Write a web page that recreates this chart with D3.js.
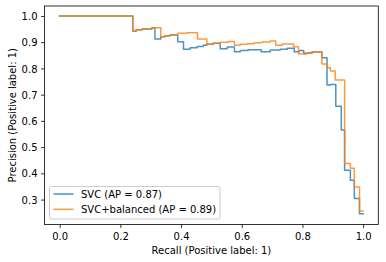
<!DOCTYPE html>
<html>
<head>
<meta charset="utf-8">
<script src="https://cdn.jsdelivr.net/npm/d3@7"></script>
<style>
  body { margin: 0; background: #fff; }
  text { font-family: "DejaVu Sans", sans-serif; }
</style>
</head>
<body>
<svg id="chart" width="386" height="262"></svg>
<script>
// step curves, left to right (recall, precision)
var svc_recall = [0, 0.241, 0.252, 0.272, 0.304, 0.314, 0.333, 0.347, 0.364, 0.389,
	0.408, 0.430, 0.453, 0.473, 0.485, 0.506, 0.529, 0.552, 0.576, 0.595,
	0.621, 0.664, 0.694, 0.727, 0.750, 0.773, 0.789, 0.804, 0.820, 0.832,
	0.864, 0.881, 0.892, 0.910, 0.928, 0.939, 0.958, 0.971, 0.988, 1.0];
var svc_precision = [1.0, 0.942, 0.947, 0.950, 0.955, 0.912, 0.921, 0.925, 0.927, 0.902,
	0.873, 0.879, 0.884, 0.888, 0.892, 0.896, 0.875, 0.882, 0.864, 0.868,
	0.871, 0.864, 0.870, 0.873, 0.877, 0.864, 0.868, 0.858, 0.860, 0.863,
	0.841, 0.737, 0.739, 0.656, 0.565, 0.412, 0.374, 0.304, 0.246, 0.246];

var bal_recall = [0, 0.241, 0.252, 0.272, 0.304, 0.333, 0.347, 0.364, 0.389, 0.420,
	0.454, 0.485, 0.506, 0.529, 0.555, 0.576, 0.595, 0.618, 0.641, 0.667,
	0.694, 0.712, 0.733, 0.771, 0.787, 0.815, 0.832, 0.864, 0.881, 0.892,
	0.908, 0.939, 0.958, 0.971, 0.988, 1.0];
var bal_precision = [1.0, 0.942, 0.947, 0.950, 0.955, 0.921, 0.925, 0.927, 0.934, 0.936,
	0.912, 0.892, 0.896, 0.900, 0.903, 0.888, 0.892, 0.894, 0.898, 0.901,
	0.905, 0.888, 0.893, 0.883, 0.855, 0.858, 0.863, 0.817, 0.803, 0.790,
	0.756, 0.438, 0.419, 0.348, 0.256, 0.256];

var series_names = ['SVC (AP = 0.87)', 'SVC+balanced (AP = 0.89)'];
var series_colors = ['#1f77b4', '#ff7f0e'];
var x_ticks = [0, 0.2, 0.4, 0.6, 0.8, 1.0];
var y_ticks = [0.3, 0.4, 0.5, 0.6, 0.7, 0.8, 0.9, 1.0];
var x_label = 'Recall (Positive label: 1)';
var y_label = 'Precision (Positive label: 1)';

var svg = d3.select('#chart');

// axes box in pixels (window.top is taken, hence the prefix)
var ax_left = 44.5, ax_right = 378.3, ax_top = 6, ax_bottom = 224.5;

var xScale = d3.scaleLinear().domain([-0.05, 1.05]).range([ax_left, ax_right]);
var yScale = d3.scaleLinear().domain([0.205, 1.038]).range([ax_bottom, ax_top]);

function to_points(rec, prec) {
	return rec.map(function(r, i) { return [r, prec[i]]; });
}
var all_series = [to_points(svc_recall, svc_precision), to_points(bal_recall, bal_precision)];

//ticks
var xAxis = d3.axisBottom(xScale).tickValues(x_ticks).tickSize(3.5).tickSizeOuter(0).tickPadding(3.5)
	.tickFormat(d3.format('.1f'));
var yAxis = d3.axisLeft(yScale).tickValues(y_ticks).tickSize(3.5).tickSizeOuter(0).tickPadding(3.5)
	.tickFormat(d3.format('.1f'));

var gx = svg.append('g').attr('transform', 'translate(0,' + ax_bottom + ')').call(xAxis);
var gy = svg.append('g').attr('transform', 'translate(' + ax_left + ',0)').call(yAxis);
[gx, gy].forEach(function(g) {
	g.select('.domain').remove();
	g.selectAll('line').attr('stroke', '#000').attr('stroke-width', 0.8);
	g.selectAll('text').attr('fill', '#000').attr('font-size', 10)
		.attr('font-family', '"DejaVu Sans", sans-serif');
});
gx.selectAll('text').attr('dy', '0.8em');
gy.selectAll('text').attr('dy', '0.36em');

// curves
var line = d3.line()
	.x(function(d) { return xScale(d[0]); })
	.y(function(d) { return yScale(d[1]); })
	.curve(d3.curveStepAfter);

svg.append('g').selectAll('path.pr')
	.data(all_series)
	.enter()
	.append('path')
	.classed('pr', true)
	.attr('d', line)
	.attr('fill', 'none')
	.attr('stroke', function(d, i) { return series_colors[i]; })
	.attr('stroke-opacity', 0.8)
	.attr('stroke-width', 1.5)
	.attr('stroke-linejoin', 'round')
	.attr('stroke-linecap', 'square');

// spines
svg.append('rect')
	.attr('x', ax_left).attr('y', ax_top)
	.attr('width', ax_right - ax_left).attr('height', ax_bottom - ax_top)
	.attr('fill', 'none').attr('stroke', '#000').attr('stroke-width', 0.8);

// axis labels
svg.append('text')
	.attr('x', (ax_left + ax_right) / 2).attr('y', 254)
	.attr('text-anchor', 'middle').attr('font-size', 10).attr('fill', '#000')
	.text(x_label);
svg.append('text')
	.attr('transform', 'translate(15.7,' + ((ax_top + ax_bottom) / 2) + ') rotate(-90)')
	.attr('text-anchor', 'middle').attr('font-size', 10).attr('fill', '#000')
	.text(y_label);

// legend, lower left
var legend = svg.append('g').attr('transform', 'translate(49.5,186.5)');
legend.append('rect')
	.attr('width', 170.5).attr('height', 32.5).attr('rx', 2)
	.attr('fill', '#fff').attr('fill-opacity', 0.8)
	.attr('stroke', '#cccccc').attr('stroke-width', 1);
var items = legend.selectAll('g.item')
	.data(series_names)
	.enter()
	.append('g')
	.classed('item', true)
	.attr('transform', function(d, i) { return 'translate(0,' + (7.5 + i * 15.3) + ')'; });
items.append('line')
	.attr('x1', 4).attr('x2', 24).attr('y1', 0).attr('y2', 0)
	.attr('stroke', function(d, i) { return series_colors[i]; })
	.attr('stroke-opacity', 0.8).attr('stroke-width', 1.5);
items.append('text')
	.attr('x', 31.5).attr('y', 3.6)
	.attr('font-size', 10).attr('fill', '#000')
	.text(function(d) { return d; });
</script>
</body>
</html>
